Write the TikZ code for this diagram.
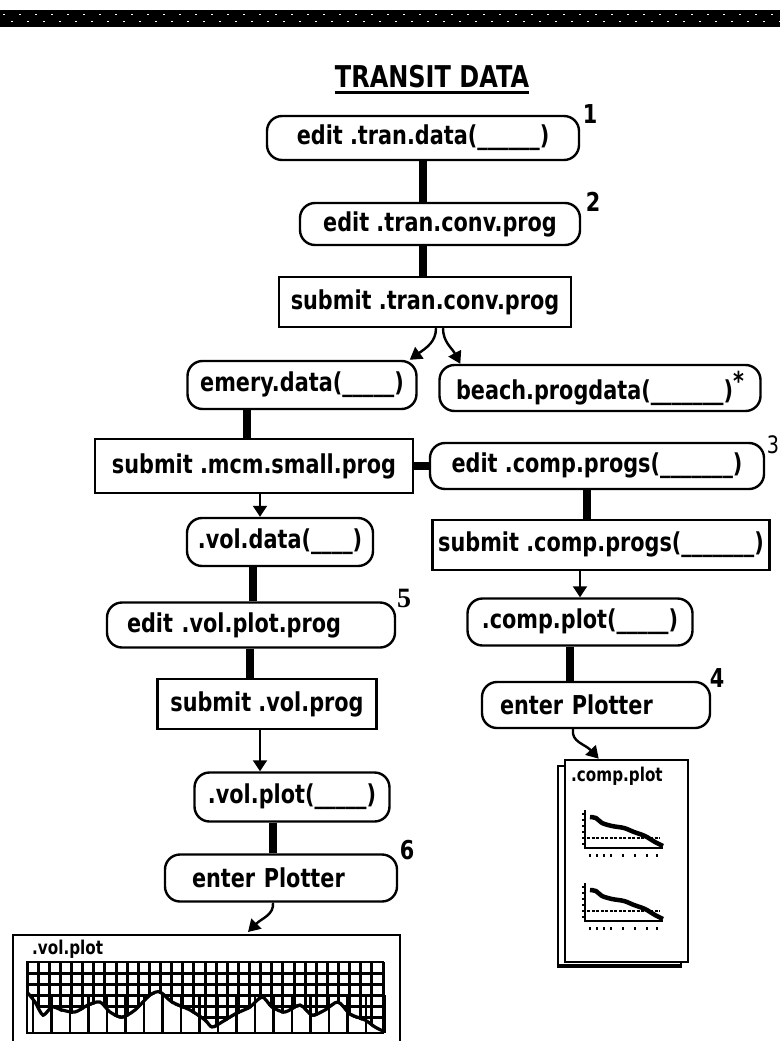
\documentclass[tikz,border=0pt]{standalone}
\usepackage{fontspec}
\setmainfont{DejaVu Sans}[FakeStretch=0.8]
\newfontfamily\serifnum{Liberation Serif}
\usetikzlibrary{arrows.meta}
\begin{document}
\begin{tikzpicture}[x=1pt,y=-1pt,
  every node/.style={font=\bfseries\fontsize{26}{28}\selectfont, inner sep=0pt},
  rbox/.style={draw, line width=2.4pt, rounded corners=15pt},
  sbox/.style={draw, line width=2.4pt},
  leftbox/.style={text width=#1, align=left},
  thickc/.style={line width=8pt},
  thinarr/.style={line width=2pt, -{Triangle[width=14pt,length=11pt]}},
  curarr/.style={line width=2.4pt, -{Triangle[width=14pt,length=12pt]}},
  numlab/.style={font=\bfseries\fontsize{26}{28}\selectfont},
  grid/.style={line width=3pt},
]
\useasboundingbox (0,0) rectangle (780,1041);
\fill[white] (0,0) rectangle (780,1041);
\clip (0,0) rectangle (780,1041);

% banner
\fill[black] (0,10) rectangle (780,27);
\foreach \i in {0,...,48} {
  \fill[white] ({16*\i+3},14) rectangle ++(1.5,1.5);
  \fill[white] ({16*\i+11},21) rectangle ++(1.5,1.5);
}

% title
\node[font=\bfseries\fontsize{30}{32}\selectfont] (title) at (432,77) {TRANSIT DATA};
\draw[line width=3pt] ([yshift=-4pt]title.south west) -- ([yshift=-4pt]title.south east);

% coordinates for vertical connector positions
\coordinate (xa) at (423,0);
\coordinate (xb) at (247,0);
\coordinate (xc) at (260,0);
\coordinate (xd) at (253,0);
\coordinate (xd2) at (250,0);
\coordinate (xe) at (273,0);
\coordinate (xf) at (587,0);
\coordinate (xg) at (580,0);
\coordinate (xh) at (570,0);

% top chain
\node[rbox, minimum width=312pt, minimum height=44pt] (n1) at (423,138) {edit .tran.data(\_\_\_\_\_\_)};
\node[numlab] (l1) at (590,114) {1};
\node[rbox, minimum width=280pt, minimum height=42pt] (n2) at (440,224) {edit .tran.conv.prog};
\node[numlab] (l2) at (593,202) {2};
\node[sbox, minimum width=292pt, minimum height=50pt] (b3) at (425,302) {submit .tran.conv.prog};

% second row
\node[rbox, minimum width=229pt, minimum height=48pt] (emery) at (302,385) {emery.data(\_\_\_\_\_)};
\node[rbox, minimum width=321pt, minimum height=46pt] (beach) at (600,388) {beach.progdata(\_\_\_\_\_\_\_)\raisebox{9pt}{*}};

% third row
\node[sbox, minimum width=318pt, minimum height=54pt] (mcm) at (254,466) {submit .mcm.small.prog};
\node[rbox, minimum width=334pt, minimum height=46pt] (ecomp) at (597,466) {edit .comp.progs(\_\_\_\_\_\_\_)};
\node[font=\fontsize{24}{26}\selectfont] (l3) at (773,445) {3};

% left column
\node[rbox, minimum width=186pt, minimum height=48pt] (voldata) at (280,542) {.vol.data(\_\_\_\_)};
\node[rbox, minimum width=288pt, minimum height=45pt, leftbox=248pt] (evp) at (251,625) {edit .vol.plot.prog};
\node[font=\serifnum\bfseries\fontsize{28}{30}\selectfont] (l5) at (404,598) {5};
\node[sbox, minimum width=219pt, minimum height=50pt] (svol) at (267,704) {submit .vol.prog};
\node[rbox, minimum width=195pt, minimum height=49pt] (volplot) at (292,797) {.vol.plot(\_\_\_\_\_)};
\node[rbox, minimum width=232pt, minimum height=47pt, leftbox=178pt] (enterL) at (281,878) {enter Plotter};
\node[numlab] (l6) at (407,850) {6};

% right column
\node[sbox, minimum width=337pt, minimum height=50pt] (scomp) at (601,545) {submit .comp.progs(\_\_\_\_\_\_\_)};
\node[rbox, minimum width=225pt, minimum height=47pt] (compplot) at (580,622) {.comp.plot(\_\_\_\_\_)};
\node[rbox, minimum width=228pt, minimum height=46pt, leftbox=192pt] (enterR) at (596,705) {enter Plotter};
\node[numlab] (l4) at (717,678) {4};

% thick connectors
\draw[thickc] (n1.south -| xa) -- (n2.north -| xa);
\draw[thickc] (n2.south -| xa) -- (b3.north -| xa);
\draw[thickc] (emery.south -| xb) -- (mcm.north -| xb);
\draw[thickc] (mcm.east) -- (mcm.east -| ecomp.west);
\draw[thickc] (voldata.south -| xd) -- (evp.north -| xd);
\draw[thickc] (evp.south -| xd2) -- (svol.north -| xd2);
\draw[thickc] (volplot.south -| xe) -- (enterL.north -| xe);
\draw[thickc] (ecomp.south -| xf) -- (scomp.north -| xf);
\draw[thickc] (compplot.south -| xh) -- (enterR.north -| xh);

% thin arrows
\draw[thinarr] (mcm.south -| xc) -- (voldata.north -| xc);
\draw[thinarr] (svol.south -| xc) -- (volplot.north -| xc);
\draw[thinarr] (scomp.south -| xg) -- (compplot.north -| xg);

% branch arrows
\draw[curarr] ([xshift=11pt]b3.south) .. controls (436,342) and (426,348) .. ([xshift=-8pt]emery.north east);
\draw[curarr] ([xshift=18pt]b3.south) .. controls (443,342) and (452,348) .. ([xshift=22pt]beach.north west);

% comp.plot page
\draw[line width=2.4pt, fill=white] (558,766) rectangle (681,967);
\draw[line width=4pt] (558,966) -- (681,966);
\node[draw, line width=2.6pt, fill=white, minimum width=123pt, minimum height=202pt] (page) at (626.5,861) {};
\node[font=\bfseries\fontsize{19}{20}\selectfont, anchor=north west] (pagelab) at (571,767) {.comp.plot};
\foreach \dy in {0,73} {
  \begin{scope}[yshift=-\dy pt]
    \draw[line width=2pt] (585,810) -- (585,848) -- (663,848);
    \foreach \ty in {814,820,826,832,838,844} \draw[line width=1.5pt] (582,\ty) -- (585,\ty);
    \foreach \tx in {590,597,604,611,623,635,647,657} \fill (\tx-1,854) rectangle ++(2,2.5);
    \draw[line width=2.2pt, dash pattern=on 3pt off 1.5pt] (587,838) -- (660,838);
    \draw[line width=4.5pt, line join=round] plot[smooth] coordinates {(590,817) (596,818) (602,823) (612,826) (624,828) (634,832) (645,836) (655,842) (663,846)};
  \end{scope}
}
\draw[curarr] ([xshift=-23pt]enterR.south) .. controls (571,742) and (585,744) .. ([xshift=35pt]page.north west);

% vol.plot chart
\draw[line width=2.2pt] (13,1045) -- (13,935) -- (400,935) -- (400,1045);
\coordinate (charttop) at (248,932);
\node[font=\bfseries\fontsize{19}{20}\selectfont, anchor=north west] (chartlab) at (32,940) {.vol.plot};
\foreach \k in {0,...,32} \draw[grid] ({27+\k*11.125},962) -- ({27+\k*11.125},1033);
\foreach \yy in {973,984,995,1006,1017} \draw[grid] (27,\yy) -- (383,\yy);
\fill[white] (27,1033) -- plot[smooth] coordinates {(27,994) (35,1004) (43,1017) (52,1009) (62,1012) (75,1014) (88,1007) (100,1004) (110,1014) (122,1019) (135,1012) (150,997) (160,994) (172,1004) (190,1012) (205,1022) (212,1029) (222,1024) (235,1016) (250,1009) (262,999) (272,1009) (285,1014) (300,1007) (312,1017) (325,1012) (338,1004) (350,1016) (365,1022) (375,1029) (383,1032)} -- (383,1033) -- cycle;
\foreach \k in {0,...,19} \draw[line width=2.6pt] ({33+\k*18.5},995) -- ({33+\k*18.5},1033);
\draw[line width=3.2pt] plot[smooth] coordinates {(27,992) (35,1002) (43,1015) (52,1007) (62,1010) (75,1012) (88,1005) (100,1002) (110,1012) (122,1017) (135,1010) (150,995) (160,992) (172,1002) (190,1010) (205,1020) (212,1027) (222,1022) (235,1014) (250,1007) (262,997) (272,1007) (285,1012) (300,1005) (312,1015) (325,1010) (338,1002) (350,1014) (365,1020) (375,1027) (383,1031)};
\draw[line width=2.8pt] (27,962) rectangle (383,1033);
\draw[curarr] ([xshift=-8pt]enterL.south) .. controls (274,915) and (262,918) .. (charttop);
\end{tikzpicture}
\end{document}
